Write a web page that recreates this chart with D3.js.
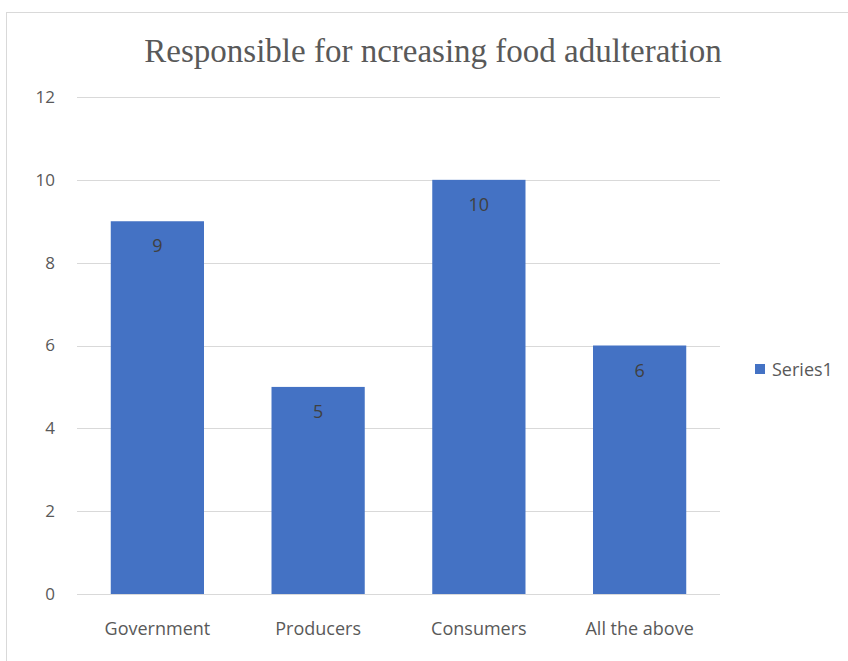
<!DOCTYPE html>
<html>
<head>
<meta charset="utf-8">
<script src="https://cdn.jsdelivr.net/npm/d3@7"></script>
<style>
	body { margin: 0; background: #fff; }
	svg { display: block; }
</style>
</head>
<body>
<script>
const categories = ["Government", "Producers", "Consumers", "All the above"];
const values = [9, 5, 10, 6];
const yTicks = [0, 2, 4, 6, 8, 10, 12];
const seriesName = "Series1";
const title = "Responsible for ncreasing food adulteration";

const width = 848;
const height = 661;
const plot = {left: 77, right: 720, top: 97, bottom: 594};
const barColor = "#4472c4";
const textColor = "#595959";
const sans = "'Open Sans', 'Noto Sans', sans-serif";

const svg = d3.select("body")
	.append("svg")
	.attr("width", width)
	.attr("height", height);

// chart frame
svg.append("rect")
	.attr("x", 6.5)
	.attr("y", 12.5)
	.attr("width", width)
	.attr("height", height)
	.attr("fill", "#fff")
	.attr("stroke", "#d9d9d9");

const scaleX = d3.scaleBand()
	.domain(categories)
	.range([plot.left, plot.right])
	.paddingInner(0.42)
	.paddingOuter(0.21);

const scaleY = d3.scaleLinear()
	.domain([0, 12])
	.range([plot.bottom, plot.top]);

// gridlines
svg.append("g")
	.selectAll("line")
	.data(yTicks)
	.join("line")
	.attr("x1", plot.left)
	.attr("x2", plot.right)
	.attr("y1", d => Math.round(scaleY(d)) + 0.5)
	.attr("y2", d => Math.round(scaleY(d)) + 0.5)
	.attr("stroke", "#d9d9d9")
	.attr("stroke-width", 1);

// y axis labels
const axisY = d3.axisLeft(scaleY).tickValues(yTicks).tickSize(0).tickPadding(0);
svg.append("g")
	.attr("transform", `translate(${plot.left - 22},0)`)
	.call(axisY)
	.call(g => g.select(".domain").remove())
	.call(g => g.selectAll("text")
		.attr("fill", textColor)
		.style("font-family", sans)
		.style("font-size", "17px"));

// bars
svg.append("g")
	.selectAll("rect")
	.data(values)
	.join("rect")
	.attr("x", (d, i) => scaleX(categories[i]))
	.attr("y", d => scaleY(d))
	.attr("width", scaleX.bandwidth())
	.attr("height", d => scaleY(0) - scaleY(d))
	.attr("fill", barColor);

// data labels
svg.append("g")
	.selectAll("text")
	.data(values)
	.join("text")
	.attr("x", (d, i) => scaleX(categories[i]) + scaleX.bandwidth() / 2)
	.attr("y", d => scaleY(d) + 31)
	.attr("text-anchor", "middle")
	.attr("fill", "#404040")
	.style("font-family", sans)
	.style("font-size", "18px")
	.text(d => d);

// x axis labels
const axisX = d3.axisBottom(scaleX).tickSize(0).tickPadding(0);
svg.append("g")
	.attr("transform", `translate(0,${plot.bottom + 28})`)
	.call(axisX)
	.call(g => g.select(".domain").remove())
	.call(g => g.selectAll("text")
		.attr("fill", textColor)
		.style("font-family", sans)
		.style("font-size", "18px"));

// title
svg.append("text")
	.attr("x", 433)
	.attr("y", 62)
	.attr("text-anchor", "middle")
	.attr("fill", textColor)
	.style("font-family", "'Liberation Serif', 'DejaVu Serif', serif")
	.style("font-size", "33px")
	.text(title);

// legend
const legend = svg.append("g").attr("transform", "translate(755,364)");
legend.append("rect")
	.attr("width", 10)
	.attr("height", 10)
	.attr("fill", barColor);
legend.append("text")
	.attr("x", 17)
	.attr("y", 12)
	.attr("fill", textColor)
	.style("font-family", sans)
	.style("font-size", "18px")
	.text(seriesName);
</script>
</body>
</html>
